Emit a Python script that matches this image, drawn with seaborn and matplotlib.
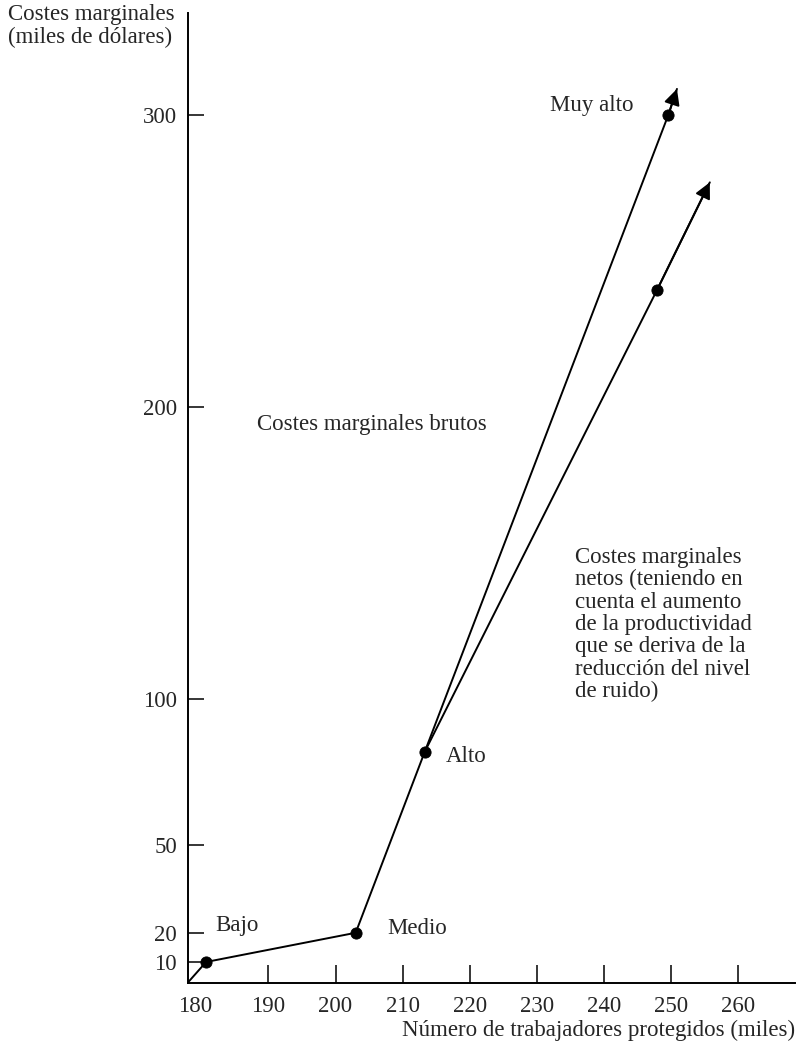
import pandas as pd
import matplotlib
matplotlib.use("Agg")
import matplotlib.pyplot as plt
import seaborn as sns

# datos
trabajadores_brutos = [178.0, 180.7, 203.0, 213.3, 249.6]
costes_brutos = [3.0, 10.0, 20.0, 82.0, 300.0]
punta_brutos = (250.9, 309.0)

trabajadores_netos = [213.3, 247.9]
costes_netos = [82.0, 240.0]
punta_netos = (255.8, 277.0)

puntos_x = [180.7, 203.0, 213.3, 249.6, 247.9]
puntos_y = [10.0, 20.0, 82.0, 300.0, 240.0]

ticks_x = [190, 200, 210, 220, 230, 240, 250, 260]
ticks_y = [10, 20, 50, 100, 200, 300]

FS = 16.5

sns.set_style("ticks")
plt.rcParams['font.family'] = ['Liberation Serif', 'DejaVu Serif']
plt.rcParams['font.size'] = FS

fig = plt.figure(figsize=(8.04, 10.46), dpi=100)
ax = fig.add_axes([188 / 804, 63 / 1046, (795 - 188) / 804, (983 - 13) / 1046])

df_brutos = pd.DataFrame({'x': trabajadores_brutos + [punta_brutos[0]],
                          'y': costes_brutos + [punta_brutos[1]]})
df_netos = pd.DataFrame({'x': trabajadores_netos + [punta_netos[0]],
                         'y': costes_netos + [punta_netos[1]]})

sns.lineplot(data=df_brutos, x='x', y='y', color='black', linewidth=1.4, ax=ax, sort=False)
sns.lineplot(data=df_netos, x='x', y='y', color='black', linewidth=1.4, ax=ax, sort=False)
sns.scatterplot(x=puntos_x, y=puntos_y, color='black', s=65, edgecolor='black', zorder=5, ax=ax)

# puntas de flecha
for ini, fin in [((trabajadores_brutos[-1], costes_brutos[-1]), punta_brutos),
                 ((trabajadores_netos[-1], costes_netos[-1]), punta_netos)]:
    ax.annotate('', xy=fin, xytext=ini,
                arrowprops=dict(arrowstyle='-|>', color='black', lw=1.4,
                                mutation_scale=24, shrinkA=0, shrinkB=0))

ax.set_xlim(178, 268.5)
ax.set_ylim(2.8, 335)
ax.set_xticks(ticks_x)
ax.set_yticks(ticks_y)
ax.set_yticklabels([str(t) for t in ticks_y])
ax.tick_params(axis='x', direction='in', length=13, width=1.3, pad=9, labelsize=FS)
ax.tick_params(axis='y', direction='in', length=11.5, width=1.3, pad=8, labelsize=FS)
ax.set_xlabel('')
ax.set_ylabel('')
sns.despine(ax=ax)
for s in ['left', 'bottom']:
    ax.spines[s].set_linewidth(1.4)
    ax.spines[s].set_color('black')

# etiqueta 180 en el origen (sin marca)
ax.annotate('180', xy=(179.0, 0), xycoords=ax.get_xaxis_transform(),
            xytext=(0, -9), textcoords='offset points',
            ha='center', va='top', fontsize=FS)

fig.text(8 / 804, 1 - 4 / 1046, 'Costes marginales\n(miles de dólares)',
         ha='left', va='top', fontsize=FS, linespacing=1.12)
fig.text(795 / 804, 1 - 1030 / 1046, 'Número de trabajadores protegidos (miles)',
         ha='right', va='center', fontsize=FS)

ax.annotate('Bajo', xy=(215 / 804, 1 - 926 / 1046), xycoords='figure fraction',
            ha='left', va='center', fontsize=FS)
ax.annotate('Medio', xy=(387 / 804, 1 - 928 / 1046), xycoords='figure fraction',
            ha='left', va='center', fontsize=FS)
ax.annotate('Alto', xy=(446 / 804, 1 - 757 / 1046), xycoords='figure fraction',
            ha='left', va='center', fontsize=FS)
ax.annotate('Muy alto', xy=(550 / 804, 1 - 105 / 1046), xycoords='figure fraction',
            ha='left', va='center', fontsize=FS)
ax.annotate('Costes marginales brutos', xy=(257 / 804, 1 - 425 / 1046),
            xycoords='figure fraction', ha='left', va='center', fontsize=FS)
ax.annotate('Costes marginales\nnetos (teniendo en\ncuenta el aumento\n'
            'de la productividad\nque se deriva de la\nreducción del nivel\nde ruido)',
            xy=(575 / 804, 1 - 547 / 1046), xycoords='figure fraction',
            ha='left', va='top', fontsize=FS, linespacing=1.08)

fig.savefig('out.png', dpi=100)
